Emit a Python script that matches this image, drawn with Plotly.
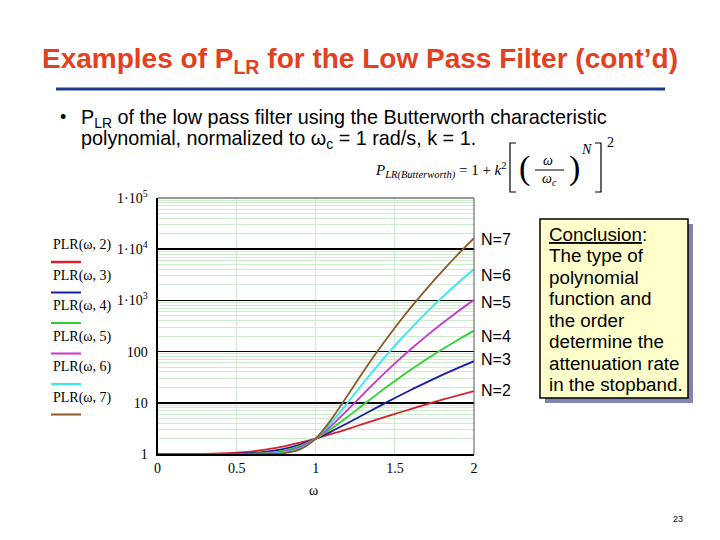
import plotly.graph_objects as go

# ---------------- data ----------------
omega = [0.0, 0.1, 0.2, 0.3, 0.4, 0.5, 0.6, 0.7, 0.8, 0.9, 1.0,
         1.1, 1.2, 1.3, 1.4, 1.5, 1.6, 1.7, 1.8, 1.9, 2.0]
plr_n2 = [1.0, 1.0, 1.002, 1.008, 1.026, 1.06, 1.13, 1.24, 1.41, 1.66, 2.0,
          2.46, 3.07, 3.86, 4.84, 6.06, 7.55, 9.35, 11.5, 14.0, 17.0]
plr_n3 = [1.0, 1.0, 1.0, 1.0, 1.004, 1.016, 1.05, 1.12, 1.26, 1.53, 2.0,
          2.77, 3.99, 5.83, 8.53, 12.4, 17.8, 25.1, 35.0, 48.0, 65.0]
plr_n4 = [1.0, 1.0, 1.0, 1.0, 1.001, 1.004, 1.017, 1.058, 1.17, 1.43, 2.0,
          3.14, 5.30, 9.16, 15.8, 26.6, 44.0, 70.8, 111.0, 171.0, 257.0]
plr_n5 = [1.0, 1.0, 1.0, 1.0, 1.0, 1.001, 1.006, 1.028, 1.11, 1.35, 2.0,
          3.59, 7.19, 14.8, 29.9, 58.7, 111.0, 203.0, 358.0, 614.0, 1025.0]
plr_n6 = [1.0, 1.0, 1.0, 1.0, 1.0, 1.0, 1.002, 1.014, 1.07, 1.28, 2.0,
          4.14, 9.92, 24.3, 57.7, 131.0, 282.0, 584.0, 1158.0, 2214.0, 4097.0]
plr_n7 = [1.0, 1.0, 1.0, 1.0, 1.0, 1.0, 1.001, 1.007, 1.044, 1.23, 2.0,
          4.80, 13.8, 40.4, 112.0, 293.0, 722.0, 1685.0, 3749.0, 7991.0, 16385.0]

series = [plr_n2, plr_n3, plr_n4, plr_n5, plr_n6, plr_n7]
legend_names = ["PLR(ω, 2)", "PLR(ω, 3)", "PLR(ω, 4)", "PLR(ω, 5)", "PLR(ω, 6)", "PLR(ω, 7)"]
curve_labels = ["N=2", "N=3", "N=4", "N=5", "N=6", "N=7"]
colors = ["#d8202a", "#1c1ca8", "#2fd02f", "#cc33cc", "#33e8ee", "#8b5a2b"]

x_ticks = [0, 0.5, 1, 1.5, 2]
x_ticktext = ["0", "0.5", "1", "1.5", "2"]
y_ticks = [1, 10, 100, 1000, 10000, 100000]
y_ticktext = ["1", "10", "100", "1·10<sup>3</sup>", "1·10<sup>4</sup>", "1·10<sup>5</sup>"]

conclusion_lines = ["<u>Conclusion</u>:", "The type of", "polynomial", "function and",
                    "the order", "determine the", "attenuation rate", "in the stopband."]

# ---------------- helpers for paper coords ----------------
W, H = 720, 540
def px(x):
    return x / W
def py(y):
    return 1 - y / H

SERIF = "Liberation Serif, Times New Roman, serif"
SANS = "Liberation Sans, Arial, sans-serif"

fig = go.Figure()
for vals, name, col in zip(series, legend_names, colors):
    fig.add_trace(go.Scatter(x=omega, y=vals, mode="lines", name=name,
                             line=dict(color=col, width=1.8, shape="spline", smoothing=0.8),
                             showlegend=False, hoverinfo="skip"))

annotations = []
shapes = []

def txt(x, y, text, size, family=SANS, anchor="left", color="black"):
    annotations.append(dict(x=px(x), y=py(y), xref="paper", yref="paper", text=text,
                            showarrow=False, xanchor=anchor, yanchor="middle", borderpad=0,
                            font=dict(family=family, size=size, color=color)))

# Title
txt(360, 61, "<b>Examples of P<sub>LR</sub> for the Low Pass Filter (cont’d)</b>", 28,
    anchor="center", color="#e2401e")
shapes.append(dict(type="line", xref="paper", yref="paper",
                   x0=px(56), x1=px(665), y0=py(89), y1=py(89),
                   line=dict(color="#1a3a8c", width=3)))

# Bullet text
txt(59, 117, "•", 18)
txt(80, 118, "P<sub>LR</sub> of the low pass filter using the Butterworth characteristic", 19.8)
txt(80, 139, "polynomial, normalized to ω<sub>c</sub> = 1 rad/s, k = 1.", 19.8)

# Formula
txt(374, 170, "<i>P</i><sub><i>LR(Butterworth)</i></sub> = 1 + <i>k</i><sup>2</sup>", 15, family=SERIF)
shapes.append(dict(type="path", xref="paper", yref="paper",
                   path=f"M {px(516)} {py(143)} L {px(510)} {py(143)} L {px(510)} {py(192)} L {px(516)} {py(192)}",
                   line=dict(color="black", width=1.2)))
shapes.append(dict(type="path", xref="paper", yref="paper",
                   path=f"M {px(595)} {py(143)} L {px(601)} {py(143)} L {px(601)} {py(192)} L {px(595)} {py(192)}",
                   line=dict(color="black", width=1.2)))
txt(524, 168, "(", 34, family=SERIF, anchor="center")
txt(574, 168, ")", 34, family=SERIF, anchor="center")
txt(548, 160, "<i>ω</i>", 14, family=SERIF, anchor="center")
txt(549, 180, "<i>ω<sub>c</sub></i>", 14, family=SERIF, anchor="center")
shapes.append(dict(type="line", xref="paper", yref="paper",
                   x0=px(535), x1=px(564), y0=py(170), y1=py(170),
                   line=dict(color="black", width=1)))
txt(586, 149, "<i>N</i>", 14, family=SERIF, anchor="center")
txt(610, 142, "2", 14, family=SERIF, anchor="center")

# Legend (Mathcad-style: text with line sample beneath)
for i, (name, col) in enumerate(zip(legend_names, colors)):
    ty = 245 + i * 30.5
    txt(52, ty, name, 14, family=SERIF)
    shapes.append(dict(type="line", xref="paper", yref="paper",
                       x0=px(51), x1=px(81), y0=py(ty + 17), y1=py(ty + 17),
                       line=dict(color=col, width=2.5 if i == 0 else 2)))

# Curve labels N=...
label_y = [390, 359, 336, 302, 275, 239]
for lab, ly in zip(curve_labels, label_y):
    txt(480, ly, lab, 16)

# Conclusion box with shadow
shapes.append(dict(type="rect", xref="paper", yref="paper",
                   x0=px(545), x1=px(693), y0=py(224), y1=py(403),
                   fillcolor="#8484b4", line=dict(width=0), layer="above"))
shapes.append(dict(type="rect", xref="paper", yref="paper",
                   x0=px(540), x1=px(688), y0=py(219), y1=py(398),
                   fillcolor="#ffffcc", line=dict(color="black", width=1.5), layer="above"))
for i, line in enumerate(conclusion_lines):
    txt(548, 234 + i * 21.5, line, 18.8)

# axis title ω and page number
txt(313, 490, "ω", 14, family=SERIF, anchor="center")
txt(678, 519, "23", 9, anchor="center")

# thin top / right frame of the plot area
shapes.append(dict(type="line", xref="paper", yref="paper",
                   x0=px(157.5), x1=px(474), y0=py(198), y1=py(198),
                   line=dict(color="#333333", width=1)))
shapes.append(dict(type="line", xref="paper", yref="paper",
                   x0=px(474), x1=px(474), y0=py(198), y1=py(454),
                   line=dict(color="#555555", width=1)))

fig.update_layout(
    template="none",
    width=W, height=H, autosize=False,
    margin=dict(l=0, r=0, t=0, b=0, pad=0, autoexpand=False),
    paper_bgcolor="white", plot_bgcolor="white",
    annotations=annotations, shapes=shapes,
    hovermode=False,
    xaxis=dict(domain=[px(157.5), px(474)], range=[0, 2], automargin=False,
               tickvals=x_ticks, ticktext=x_ticktext,
               showgrid=True, gridcolor="#cdeccd", gridwidth=1,
               showline=True, linecolor="black", linewidth=2,
               ticks="", zeroline=False,
               tickfont=dict(family=SERIF, size=14, color="black")),
    yaxis=dict(domain=[py(454), py(198)], type="log", range=[0, 5], automargin=False,
               tickvals=y_ticks, ticktext=y_ticktext,
               showgrid=True, gridcolor="black", gridwidth=1.5,
               minor=dict(dtick="D1", showgrid=True, gridcolor="#cdeccd", gridwidth=1, ticks=""),
               showline=True, linecolor="black", linewidth=2,
               ticks="", zeroline=False, ticklabelstandoff=5,
               tickfont=dict(family=SERIF, size=14, color="black")),
)

fig.write_html("out.html",
               config={"displayModeBar": False, "staticPlot": True},
               post_script=("var gd=document.getElementById('{plot_id}');"
                            "gd.style.position='fixed';gd.style.top='0px';gd.style.left='0px';"
                            "document.documentElement.style.margin='0';document.documentElement.style.padding='0';"
                            "document.documentElement.style.height='540px';document.documentElement.style.overflow='hidden';"
                            "document.body.style.margin='0';document.body.style.padding='0';"
                            "document.body.style.height='540px';document.body.style.overflow='hidden';"))
